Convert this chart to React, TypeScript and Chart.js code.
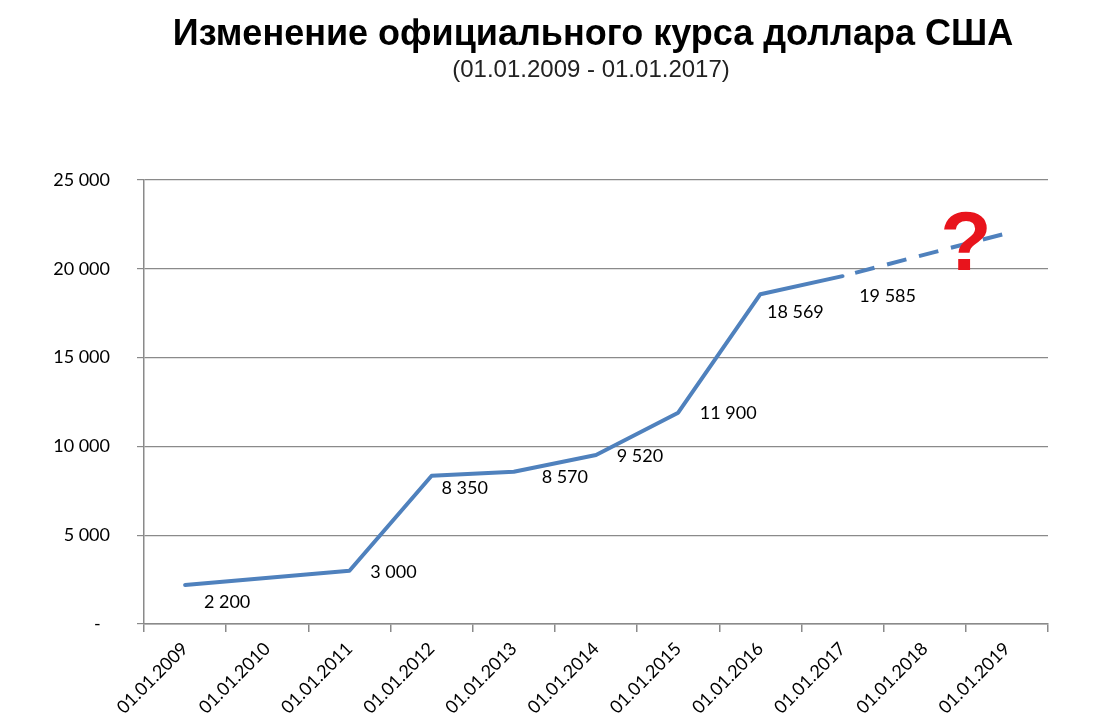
import React, { useEffect, useRef } from "react";
import { Chart, registerables } from "chart.js";

Chart.register(...registerables);

// ---- data ----
const categories = [
  "01.01.2009",
  "01.01.2010",
  "01.01.2011",
  "01.01.2012",
  "01.01.2013",
  "01.01.2014",
  "01.01.2015",
  "01.01.2016",
  "01.01.2017",
  "01.01.2018",
  "01.01.2019",
];
const rateValues: (number | null)[] = [2200, null, 3000, 8350, 8570, 9520, 11900, 18569, 19585, null, null];
const forecastValues: (number | null)[] = [null, null, null, null, null, null, null, null, 19585, 20800, 22000];
const yTickValues = [0, 5000, 10000, 15000, 20000, 25000];
const titleText = "Изменение официального курса доллара США";
const subtitleText = "(01.01.2009 - 01.01.2017)";
const questionText = "?";
const questionAt = { index: 9.5, value: 19950 };

// label offsets (layout only), per point: [dx, dy] of label centre from the point
const labelOffsets: [number, number][] = [
  [42, 17], [0, 0], [44, 1], [33, 12], [51, 5], [44, 1], [50, 1], [35, 18], [45, 20], [0, 0], [0, 0],
];

const fmt = (n: number) => (n === 0 ? "-  " : String(n).replace(/\B(?=(\d{3})+(?!\d))/g, " "));

const LINE_BLUE = "rgb(79,129,189)";
const GRID = "#8a8a8a";
const FONT = "Lato, 'Open Sans', sans-serif";

const annotations = {
  id: "annotations",
  afterDatasetsDraw(chart: any) {
    const ctx = chart.ctx;
    const meta = chart.getDatasetMeta(0);
    ctx.save();
    ctx.fillStyle = "#000";
    ctx.font = `18px ${FONT}`;
    ctx.textAlign = "center";
    ctx.textBaseline = "middle";
    rateValues.forEach((v, i) => {
      if (v == null) return;
      const el = meta.data[i];
      const [dx, dy] = labelOffsets[i];
      ctx.fillText(fmt(v), el.x + dx, el.y + dy);
    });
    ctx.restore();
  },
  afterDraw(chart: any) {
    const ctx = chart.ctx;
    const xs = chart.scales.x;
    const ys = chart.scales.y;
    ctx.save();
    // question mark
    ctx.fillStyle = "#e8141c";
    ctx.font = `bold 84px 'Liberation Sans', Arial, sans-serif`;
    ctx.textAlign = "center";
    ctx.textBaseline = "alphabetic";
    ctx.fillText(questionText, xs.getPixelForValue(questionAt.index), ys.getPixelForValue(questionAt.value));
    // title
    ctx.fillStyle = "#000";
    ctx.textBaseline = "middle";
    ctx.font = `bold 36px 'Liberation Sans', Arial, sans-serif`;
    ctx.fillText(titleText, 593, 35);
    ctx.fillStyle = "#222";
    ctx.font = `24px 'Liberation Sans', Arial, sans-serif`;
    ctx.fillText(subtitleText, 591, 70);
    ctx.restore();
  },
};

export default function App() {
  const ref = useRef<HTMLCanvasElement | null>(null);

  useEffect(() => {
    if (!ref.current) return;
    const chart = new Chart(ref.current, {
      type: "line",
      data: {
        labels: categories,
        datasets: [
          {
            data: rateValues,
            borderColor: LINE_BLUE,
            borderWidth: 4,
            pointRadius: 0,
            tension: 0,
            spanGaps: true,
            borderJoinStyle: "round",
            borderCapStyle: "round",
          },
          {
            data: forecastValues,
            borderColor: LINE_BLUE,
            borderWidth: 4,
            pointRadius: 0,
            tension: 0,
            borderDash: [20, 13],
            borderDashOffset: 20,
            borderCapStyle: "butt",
          },
        ],
      },
      options: {
        responsive: false,
        animation: false,
        devicePixelRatio: 1,
        layout: { padding: { left: 0, top: 180, right: 50, bottom: 0 } },
        plugins: {
          legend: { display: false },
          tooltip: { enabled: false },
          title: { display: false },
        },
        scales: {
          x: {
            type: "category",
            offset: true,
            grid: {
              offset: true,
              drawOnChartArea: false,
              drawTicks: true,
              tickLength: 8,
              color: GRID,
              lineWidth: 1.5,
            },
            border: { display: true, color: GRID, width: 1.5 },
            ticks: {
              minRotation: 45,
              maxRotation: 45,
              autoSkip: false,
              padding: 6,
              color: "#000",
              font: { family: FONT, size: 18 },
            },
            afterFit(scale: any) {
              scale.height = 104;
            },
          },
          y: {
            min: 0,
            max: 25000,
            afterBuildTicks(scale: any) {
              scale.ticks = yTickValues.map((v) => ({ value: v }));
            },
            grid: {
              color: GRID,
              lineWidth: 1.2,
              drawTicks: true,
              tickLength: 7,
            },
            border: { display: true, color: GRID, width: 1.5 },
            ticks: {
              padding: 27,
              color: "#000",
              font: { family: FONT, size: 18 },
              callback: (v: any) => fmt(Number(v)),
            },
            afterFit(scale: any) {
              scale.width = 144;
            },
          },
        },
      },
      plugins: [annotations],
    });
    return () => chart.destroy();
  }, []);

  return (
    <div style={{ position: "fixed", left: 0, top: 0, width: 1098, height: 728, background: "#fff" }}>
      <canvas ref={ref} width={1098} height={728} style={{ display: "block" }} />
    </div>
  );
}
